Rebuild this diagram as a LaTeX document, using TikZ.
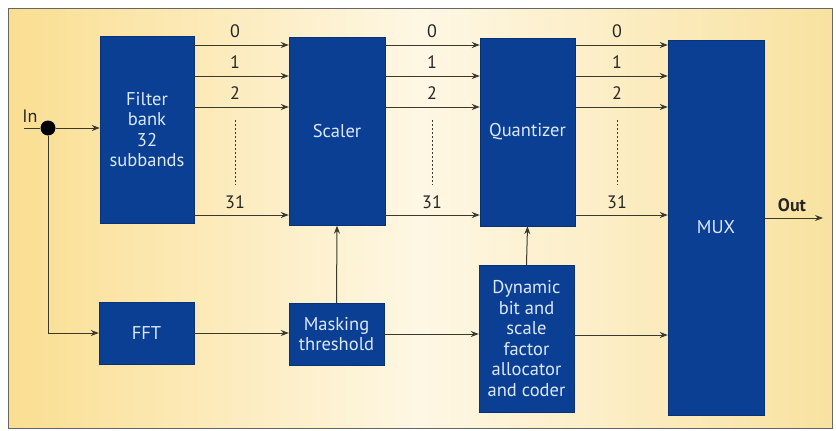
\documentclass[tikz,border=0pt]{standalone}
\usepackage{fontspec}
\setmainfont{PT Sans}
\usetikzlibrary{arrows.meta}
\definecolor{boxblue}{HTML}{0B3F93}
\definecolor{boxtext}{HTML}{DCE8FF}
\definecolor{linecol}{HTML}{3A3A2C}
\definecolor{bgleft}{RGB}{250,222,145}
\definecolor{bgmid}{RGB}{254,247,228}
\definecolor{bgright}{RGB}{249,226,160}
\tikzset{
  blk/.style={draw=boxblue!80!black, fill=boxblue, text=boxtext, inner sep=2pt, align=center,
    font=\fontsize{18.5}{20.5}\selectfont},
  arr/.style={draw=linecol, line width=1pt, -{Stealth[length=8pt,width=6pt]}},
  conn/.style={draw=linecol, line width=1pt},
  lbl/.style={text=black!85, font=\fontsize{18}{20}\selectfont, inner sep=0pt},
  dots/.style={draw=linecol, line width=0.8pt, dash pattern=on 1.5pt off 2.5pt}
}
\begin{document}
\begin{tikzpicture}[x=1pt,y=-1pt]
\useasboundingbox (0,0) rectangle (836,431);
\shade[left color=bgleft, right color=bgright, middle color=bgmid] (8,8) rectangle (832,428);
\draw[black!60, line width=0.8pt] (8,8) rectangle (832,428);

% blocks
\node[blk, minimum width=94pt, minimum height=187pt] (fb) at (147,129.5) {Filter\\bank\\32\\subbands};
\node[blk, minimum width=96pt, minimum height=188pt] (sc) at (337,131.5) {Scaler};
\node[blk, minimum width=95pt, minimum height=188pt] (qu) at (527.5,132) {Quantizer};
\node[blk, minimum width=96pt, minimum height=375pt] (mux) at (716,227.5) {MUX};
\node[blk, minimum width=95pt, minimum height=62pt] (fft) at (146.5,333) {FFT};
\node[blk, minimum width=95pt, minimum height=62pt] (mk) at (336.5,334) {Masking\\threshold};
\node[blk, minimum width=95pt, minimum height=147pt] (dyn) at (526.5,338.5) {Dynamic\\bit and\\scale\\factor\\allocator\\and coder};

% row coordinates
\coordinate (r0) at (0,45);
\coordinate (r1) at (0,76);
\coordinate (r2) at (0,107);
\coordinate (r31) at (0,215);

% subband arrows
\foreach \a/\b in {fb/sc, sc/qu, qu/mux}{
  \foreach \r in {r0,r1,r2,r31}{
    \draw[arr] (\a.east |- \r) -- (\b.west |- \r);
  }
}

% labels
\foreach \x/\n in {235/a, 432/b, 617/c}{
  \node[lbl] (l0\n) at (\x,31) {0};
  \node[lbl] (l1\n) at (\x,62) {1};
  \node[lbl] (l2\n) at (\x,93) {2};
  \node[lbl] (l31\n) at (\x,202) {31};
  \coordinate (dt\n) at (\x,120);
  \coordinate (db\n) at (\x,185);
  \draw[dots] (dt\n) -- (db\n);
}

% input
\coordinate (inS) at (24,128);
\node[circle, fill=black, minimum size=15pt, inner sep=0pt] (dot) at (48,128) {};
\node[lbl] (inL) at (30,116) {In};
\draw[conn] (inS) -- (dot);
\draw[arr] (dot) -- (fb.west |- dot);
\draw[arr] (dot) |- (fft.west);

% lower path
\draw[arr] (fft.east) -- (mk.west |- fft.east);
\draw[arr] (mk.north) -- (sc.south);
\draw[arr] (mk.east) -- (dyn.west |- mk.east);
\draw[arr] (dyn.north) -- (qu.south);
\coordinate (dynOut) at (0,335);
\draw[arr] (dyn.east |- dynOut) -- (mux.west |- dynOut);

% output
\coordinate (outE) at (823,218);
\draw[arr] (mux.east |- outE) -- (outE);
\node[lbl, font=\bfseries\fontsize{18}{20}\selectfont] (outL) at (792,205) {Out};
\end{tikzpicture}
\end{document}
